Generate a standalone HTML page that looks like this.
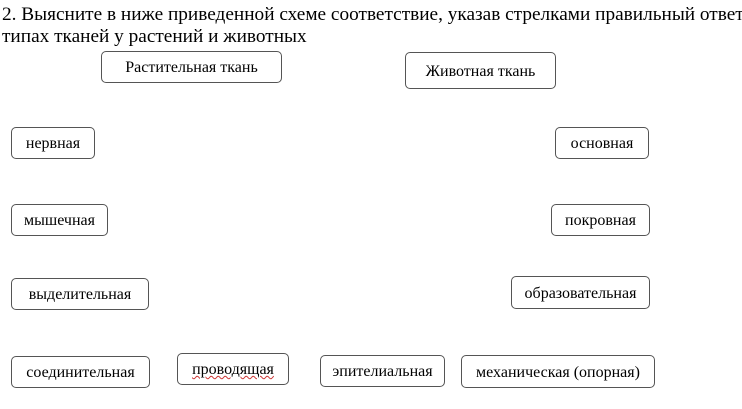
<!DOCTYPE html>
<html><head><meta charset="utf-8"><style>
body{margin:0;width:742px;height:409px;background:#fff;overflow:hidden;position:relative;font-family:"Liberation Serif",serif;color:#000}
.t{position:absolute;left:2px;font-size:19.3px;white-space:nowrap;line-height:22px}
.b{position:absolute;box-sizing:border-box;border:1.3px solid #555;border-radius:5px;font-size:16px;display:flex;align-items:center;justify-content:center;white-space:nowrap;padding-top:2px}
</style></head><body>
<div class="t" style="top:4px">2. Выясните в ниже приведенной схеме соответствие, указав стрелками правильный ответ о</div>
<div class="t" style="top:26px">типах тканей у растений и животных</div>
<div class="b" style="left:101px;top:51px;width:181px;height:32px">Растительная ткань</div>
<div class="b" style="left:405px;top:52px;width:151px;height:37px">Животная ткань</div>
<div class="b" style="left:11px;top:127px;width:84px;height:32px">нервная</div>
<div class="b" style="left:555px;top:127px;width:94px;height:32px">основная</div>
<div class="b" style="left:11px;top:204px;width:97px;height:32px">мышечная</div>
<div class="b" style="left:551px;top:204px;width:99px;height:32px">покровная</div>
<div class="b" style="left:11px;top:278px;width:138px;height:32px">выделительная</div>
<div class="b" style="left:511px;top:276px;width:139px;height:33px">образовательная</div>
<div class="b" style="left:11px;top:356px;width:139px;height:32px">соединительная</div>
<div class="b" style="left:177px;top:353px;width:112px;height:32px;text-decoration:underline wavy #c33;text-decoration-thickness:1px">проводящая</div>
<div class="b" style="left:320px;top:355px;width:125px;height:32px">эпителиальная</div>
<div class="b" style="left:461px;top:355px;width:194px;height:33px">механическая (опорная)</div>
</body></html>
